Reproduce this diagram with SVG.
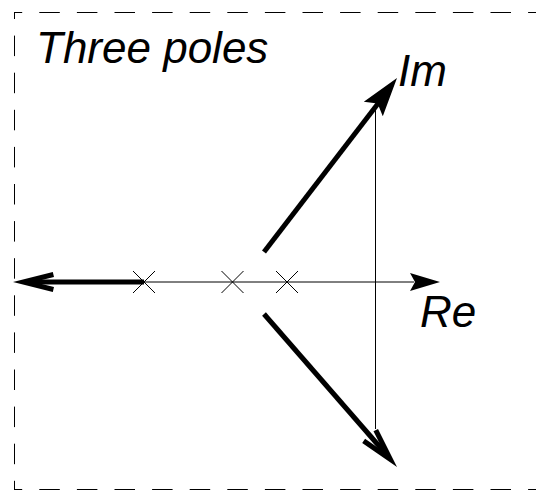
<svg xmlns="http://www.w3.org/2000/svg" width="536" height="491" viewBox="0 0 536 491">
<style>
.frame{fill:none;stroke:#000;stroke-width:1}
.thin{fill:none;stroke:#000;stroke-width:1}
.thick{fill:none;stroke:#000;stroke-width:5;stroke-linecap:butt}
.head{fill:#000;stroke:none}
.lbl{font-family:"Liberation Sans",Arial,sans-serif;font-style:italic;font-size:44px;fill:#000}
</style>
<g id="frame">
<line class="frame" x1="14" y1="12.5" x2="536" y2="12.5" stroke-dasharray="20.5 17.1" stroke-dashoffset="12.3"/>
<line class="frame" x1="14" y1="489.5" x2="536" y2="489.5" stroke-dasharray="20.5 17.1" stroke-dashoffset="12.3"/>
<line class="frame" x1="14.5" y1="12" x2="14.5" y2="490" stroke-dasharray="20.5 16.6" stroke-dashoffset="13.5"/>
</g>
<g id="title"><text class="lbl" x="36" y="63">Three poles</text></g>
<g id="axes">
<line class="thin" x1="144" y1="282" x2="414" y2="282"/>
<path class="head" d="M440,282 L410,273 L415,282 L410,291 Z"/>
<line class="thin" x1="375.5" y1="105" x2="375.5" y2="429"/>
</g>
<g id="poles">
<path id="pole1" class="thin" d="M133,271 L155,293 M155,271 L133,293"/>
<path id="pole2" class="thin" d="M221.5,271 L243.5,293 M243.5,271 L221.5,293"/>
<path id="pole3" class="thin" d="M276,271 L298,293 M298,271 L276,293"/>
</g>
<g id="connectors">
<line class="thick" x1="144" y1="282" x2="30" y2="282"/>
<path class="head" d="M13,282 L52.8,272 L54,276.9 L33.6,282 L54,287.1 L52.8,292 Z"/>
<line class="thick" x1="264" y1="252" x2="380" y2="101"/>
<path class="head" d="M397,78 L382.8,116.3 L377.6,103.4 L363.8,101.7 Z"/>
<line class="thick" x1="264" y1="314" x2="386" y2="454"/>
<path class="head" d="M397,467 L378,429.1 L373.5,431.3 L383.8,451.8 L365.1,438.8 L362.2,442.9 Z"/>
</g>
<g id="labels">
<text class="lbl" x="398" y="86">Im</text>
<text class="lbl" x="420" y="327">Re</text>
</g>
</svg>
